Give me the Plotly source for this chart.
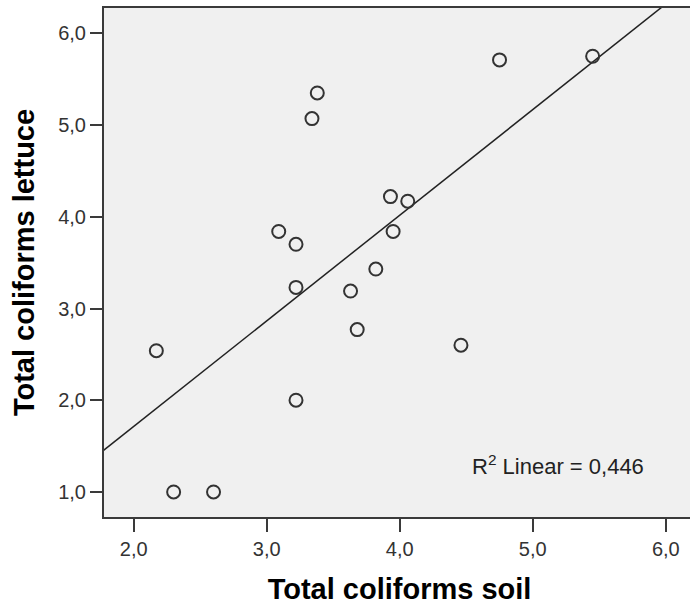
import numpy as np
import plotly.graph_objects as go

# Data
soil = [2.17, 2.30, 2.60, 3.09, 3.22, 3.22, 3.22, 3.34, 3.38, 3.63, 3.68, 3.82,
        3.93, 3.95, 4.06, 4.46, 4.75, 5.45]
lettuce = [2.54, 1.00, 1.00, 3.84, 3.70, 3.23, 2.00, 5.07, 5.35, 3.19, 2.77, 3.43,
           4.22, 3.84, 4.17, 2.60, 5.71, 5.75]

x_tickvals = [2, 3, 4, 5, 6]
x_ticktext = ["2,0", "3,0", "4,0", "5,0", "6,0"]
y_tickvals = [1, 2, 3, 4, 5, 6]
y_ticktext = ["1,0", "2,0", "3,0", "4,0", "5,0", "6,0"]

x_title = "Total coliforms soil"
y_title = "Total coliforms lettuce"
r2_label = "R<sup>2</sup> Linear = 0,446"

# plot area runs slightly past the right edge of the window (cropped like the reference)
x_range = [1.7765, 6.2195]
y_range = [0.727, 6.276]

# Linear fit
slope, intercept = np.polyfit(np.array(soil), np.array(lettuce), 1)
fit_x = np.array([x_range[0] - 0.2, x_range[1] + 0.2])
fit_y = intercept + slope * fit_x

FONT = "Liberation Sans, Arial, sans-serif"
AX = "#3a3a3a"

fig = go.Figure()
fig.add_trace(go.Scatter(
    x=fit_x, y=fit_y, mode="lines",
    line=dict(color="#222222", width=1.5),
    hoverinfo="skip", showlegend=False,
))
fig.add_trace(go.Scatter(
    x=soil, y=lettuce, mode="markers",
    marker=dict(symbol="circle-open", size=13, color="#333333",
                line=dict(width=2, color="#333333")),
    showlegend=False,
))

fig.add_annotation(
    x=4.528, y=1.29, xref="x", yref="y",
    text=r2_label, showarrow=False, xanchor="left", yanchor="middle",
    font=dict(family=FONT, size=22, color="#222222"),
)

fig.update_layout(
    width=695, height=610,
    margin=dict(l=104, r=0, t=8, b=93),
    paper_bgcolor="white",
    plot_bgcolor="#f0f0f0",
    font=dict(family=FONT, color="#333333"),
    xaxis=dict(
        range=x_range, tickvals=x_tickvals, ticktext=x_ticktext,
        showgrid=False, zeroline=False,
        showline=True, linecolor=AX, linewidth=2, mirror=True,
        ticks="outside", ticklen=13, tickwidth=2, tickcolor=AX,
        tickfont=dict(family=FONT, size=20, color="#333333"),
        title=dict(text="<b>" + x_title + "</b>", standoff=20,
                   font=dict(family=FONT, size=29, color="#000000")),
    ),
    yaxis=dict(
        range=y_range, tickvals=y_tickvals, ticktext=y_ticktext,
        showgrid=False, zeroline=False,
        showline=True, linecolor=AX, linewidth=2, mirror=False,
        ticks="outside", ticklen=12, tickwidth=2, tickcolor=AX,
        tickfont=dict(family=FONT, size=20, color="#333333"),
        title=dict(text="<b>" + y_title + "</b>", standoff=15,
                   font=dict(family=FONT, size=29, color="#000000")),
    ),
)

fig.write_html(
    "out.html",
    config={"displayModeBar": False},
    post_script="document.body.style.margin='0';document.body.style.padding='0';"
                "document.body.style.overflow='hidden';",
)
